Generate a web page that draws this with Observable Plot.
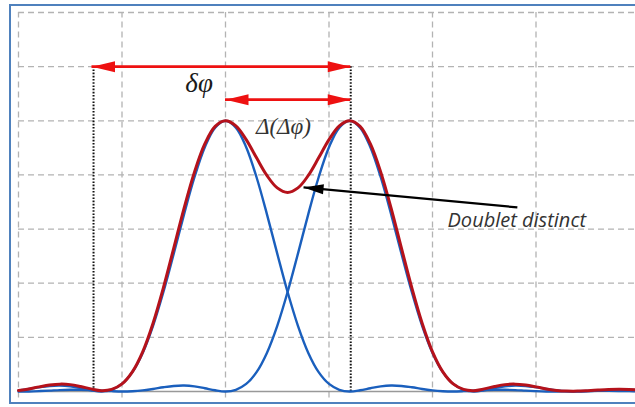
<!DOCTYPE html>
<html>
<head>
<meta charset="utf-8">
<script src="https://cdn.jsdelivr.net/npm/d3@7"></script>
<script src="https://cdn.jsdelivr.net/npm/@observablehq/plot@0.6"></script>
<style>
  html, body { margin: 0; padding: 0; background: #fff; overflow: hidden; }
  #wrap { position: relative; width: 635px; height: 407px; overflow: hidden; }
  #wrap svg { position: absolute; left: 0; top: 0; }
  #border { position: absolute; left: 9px; top: 4px; width: 700px; height: 400px;
            box-sizing: border-box; border: 2px solid #4f81bd; pointer-events: none; z-index: 2; }
</style>
</head>
<body>
<div id="wrap"><div id="border"></div></div>
<script>
// phase positions (grid units)
const phase = [0.0,0.1,0.2,0.3,0.4,0.5,0.6,0.7,0.8,0.9,1.0,1.1,1.2,1.3,1.4,1.5,1.6,1.7,1.8,1.9,
               2.0,2.1,2.2,2.3,2.4,2.5,2.6,2.7,2.8,2.9,3.0,3.1,3.2,3.3,3.4,3.5,3.6,3.7,3.8,3.9,
               4.0,4.1,4.2,4.3,4.4,4.5,4.6,4.7,4.8,4.9,5.0,5.1,5.2,5.3,5.4,5.5,5.6,5.7,5.8,5.9,6.0];
// left component (blue)
const leftPeak = [0.020,0.047,0.078,0.102,0.110,0.095,0.060,0.022,0.000,0.032,
                  0.140,0.358,0.713,1.214,1.838,2.546,3.277,3.957,4.512,4.874,
                  5.000,4.874,4.512,3.957,3.277,2.546,1.838,1.214,0.713,0.358,
                  0.140,0.032,0.000,0.022,0.060,0.095,0.110,0.102,0.078,0.047,
                  0.020,0.005,0.000,0.006,0.016,0.026,0.032,0.032,0.026,0.016,
                  0.007,0.001,0.000,0.003,0.007,0.010,0.012,0.012,0.010,0.007,0.003];
// right component (blue)
const rightPeak = [0.000,0.001,0.007,0.016,0.026,0.032,0.032,0.026,0.016,0.006,
                   0.000,0.005,0.020,0.047,0.078,0.102,0.110,0.095,0.060,0.022,
                   0.000,0.032,0.140,0.358,0.713,1.214,1.838,2.546,3.277,3.957,
                   4.512,4.874,5.000,4.874,4.512,3.957,3.277,2.546,1.838,1.214,
                   0.713,0.358,0.140,0.032,0.000,0.022,0.060,0.095,0.110,0.102,
                   0.078,0.047,0.020,0.005,0.000,0.006,0.016,0.026,0.032,0.032,0.026];
// resulting doublet (red)
const doublet = [0.020,0.048,0.085,0.118,0.136,0.127,0.092,0.048,0.016,0.038,
                 0.140,0.363,0.733,1.261,1.916,2.648,3.387,4.052,4.572,4.896,
                 5.000,4.906,4.652,4.315,3.990,3.760,3.676,3.760,3.990,4.315,
                 4.652,4.906,5.000,4.896,4.572,4.052,3.387,2.648,1.916,1.261,
                 0.733,0.363,0.140,0.038,0.016,0.048,0.092,0.127,0.136,0.118,
                 0.085,0.048,0.020,0.008,0.007,0.016,0.028,0.038,0.042,0.039,0.029];

const gridX = [0, 1, 2, 3, 4, 5];
const gridY = [1, 2, 3, 4, 5, 6, 7];

// red double arrows: level, from, to
const arrowY = [6.0, 5.39];
const arrowFrom = [0.71, 2.0];
const arrowTo = [3.21, 3.21];
// dotted markers
const markerX = [0.725, 3.21];
const markerTop = 6.0;
// black pointer: from text to dip
const pointerFrom = [4.82, 3.40];
const pointerTo = [2.754, 3.77];

const labelText = ["δφ", "Δ(Δφ)", "Doublet distinct"];
const labelX = [1.745, 2.56, 4.145];
const labelY = [5.69, 4.9, 3.15];

const xMax = 617 / 103.5;
const W = 635, H = 407, ML = 18, MR = 0, MT = 12, MB = 16;

const table = phase.map((p, i) => ({phase: p, left: leftPeak[i], right: rightPeak[i], sum: doublet[i]}));
const arrows = arrowY.map((y, i) => ({y, from: arrowFrom[i], to: arrowTo[i]}));
const heads = arrows.flatMap(a => [{x: a.to, y: a.y, angle: 0}, {x: a.from, y: a.y, angle: 180}]);

const sx = d3.scaleLinear([0, xMax], [ML, W - MR]);
const sy = d3.scaleLinear([0, 7], [H - MB, MT]);
const pAngle = Math.atan2(sy(pointerTo[1]) - sy(pointerFrom[1]), sx(pointerTo[0]) - sx(pointerFrom[0])) * 180 / Math.PI;

function headSymbol(L, Wd) {
  return { draw(ctx) { ctx.moveTo(0, 0); ctx.lineTo(-L, -Wd); ctx.lineTo(-L, Wd); ctx.closePath(); } };
}
const redHead = headSymbol(23, 5.5);
const blackHead = headSymbol(20, 5);

const RED = "#ee1111", DARKRED = "#b5121b", BLUE = "#1a5fbd";
const grid = {stroke: "#b3b3b3", strokeWidth: 1.3, strokeDasharray: "6,4"};

const chart = Plot.plot({
  width: W, height: H, marginLeft: ML, marginRight: MR, marginTop: MT, marginBottom: MB,
  x: {domain: [0, xMax], axis: null},
  y: {domain: [0, 7], axis: null},
  style: {background: "transparent"},
  marks: [
    Plot.ruleX(gridX, {x: d => d, y1: -0.12, y2: 7, ...grid}),
    Plot.ruleY(gridY, {y: d => d, x1: 0, x2: xMax, ...grid}),
    Plot.ruleY([0], {y: d => d, x1: 0, x2: xMax, stroke: "#999", strokeWidth: 1.5}),
    Plot.ruleX(markerX, {x: d => d, y1: 0, y2: markerTop, stroke: "#111", strokeWidth: 2, strokeDasharray: "1.6,1.6"}),
    Plot.line(table, {x: "phase", y: "left", stroke: BLUE, strokeWidth: 2.4, curve: "catmull-rom"}),
    Plot.line(table, {x: "phase", y: "right", stroke: BLUE, strokeWidth: 2.4, curve: "catmull-rom"}),
    Plot.line(table, {x: "phase", y: "sum", stroke: DARKRED, strokeWidth: 3, curve: "catmull-rom"}),
    Plot.ruleY(arrows, {y: "y", x1: "from", x2: "to", stroke: RED, strokeWidth: 2.6}),
    Plot.dot(heads, {x: "x", y: "y", symbol: redHead, fill: RED, stroke: "none", rotate: "angle", r: 5}),
    Plot.link([0], {x1: () => pointerFrom[0], y1: () => pointerFrom[1], x2: () => pointerTo[0], y2: () => pointerTo[1], stroke: "#000", strokeWidth: 2.2}),
    Plot.dot([0], {x: () => pointerTo[0], y: () => pointerTo[1], symbol: blackHead, fill: "#000", stroke: "none", rotate: pAngle, r: 5}),
    Plot.text([0], {x: () => labelX[0], y: () => labelY[0], text: () => labelText[0], fontFamily: "Liberation Serif", fontStyle: "italic", fontSize: 27, fill: "#1a1a1a"}),
    Plot.text([1], {x: () => labelX[1], y: () => labelY[1], text: () => labelText[1], fontFamily: "Liberation Serif", fontStyle: "italic", fontSize: 23, fill: "#333"}),
    Plot.text([2], {x: () => labelX[2], y: () => labelY[2], text: () => labelText[2], textAnchor: "start", fontFamily: "Open Sans", fontStyle: "italic", fontSize: 20, fill: "#333"})
  ]
});
document.getElementById("wrap").appendChild(chart);
</script>
</body>
</html>
